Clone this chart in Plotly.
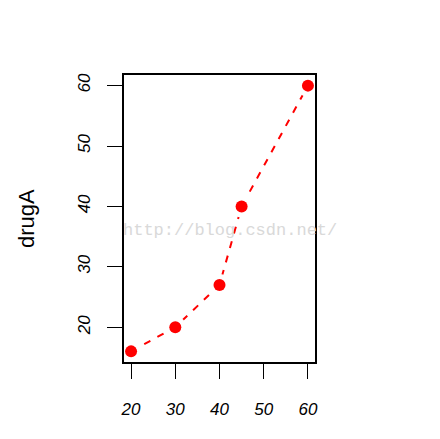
import plotly.graph_objects as go

dose = [20, 30, 40, 45, 60]
drugA = [16, 20, 27, 40, 60]
x_ticks = [20, 30, 40, 50, 60]
y_ticks = [20, 30, 40, 50, 60]

FONT = "Liberation Sans, Arial, sans-serif"

fig = go.Figure()
fig.add_trace(go.Scatter(
    x=dose, y=drugA, mode="lines",
    line=dict(color="#ff0000", width=2, dash="7px,8px"),
    hoverinfo="skip",
))
# blank ring so the line stops short of each point, like type="b"
fig.add_trace(go.Scatter(
    x=dose, y=drugA, mode="markers",
    marker=dict(color="white", size=22, line=dict(width=0)),
    hoverinfo="skip",
))
fig.add_trace(go.Scatter(
    x=dose, y=drugA, mode="markers",
    marker=dict(color="#ff0000", size=12, line=dict(width=0)),
))

axis_font = dict(family=FONT, size=17, color="black", style="italic")

fig.update_xaxes(
    range=[18.4, 61.6], tickvals=x_ticks, ticks="outside", ticklen=15,
    tickwidth=1, tickcolor="black", tickfont=axis_font, ticklabelstandoff=16,
    showline=True, linecolor="black", linewidth=2, mirror=True,
    showgrid=False, zeroline=False,
)
fig.update_yaxes(
    range=[14.24, 61.76], tickvals=y_ticks, ticks="outside", ticklen=15,
    tickwidth=1, tickcolor="black", tickfont=axis_font, tickangle=-90,
    ticklabelstandoff=10,
    showline=True, linecolor="black", linewidth=2, mirror=True,
    showgrid=False, zeroline=False,
)

fig.add_annotation(
    text="drugA", xref="paper", yref="paper", x=(25 - 123) / 192, y=0.5,
    textangle=-90, showarrow=False, xanchor="center", yanchor="middle",
    font=dict(family=FONT, size=22, color="black"),
)
fig.add_annotation(
    text="http://blog.csdn.net/", xref="paper", yref="paper",
    x=(230 - 123) / 192, y=(362 - 230) / 288, showarrow=False,
    xanchor="center", yanchor="middle",
    font=dict(family="Liberation Mono, monospace", size=17, color="#d9d9d9"),
)

# page body adds an 8px offset, so margins are shifted to compensate
fig.update_layout(
    width=440, height=439,
    margin=dict(l=116, r=133, t=67, b=85),
    paper_bgcolor="white", plot_bgcolor="white",
    showlegend=False,
)

fig.write_html("out.html")
